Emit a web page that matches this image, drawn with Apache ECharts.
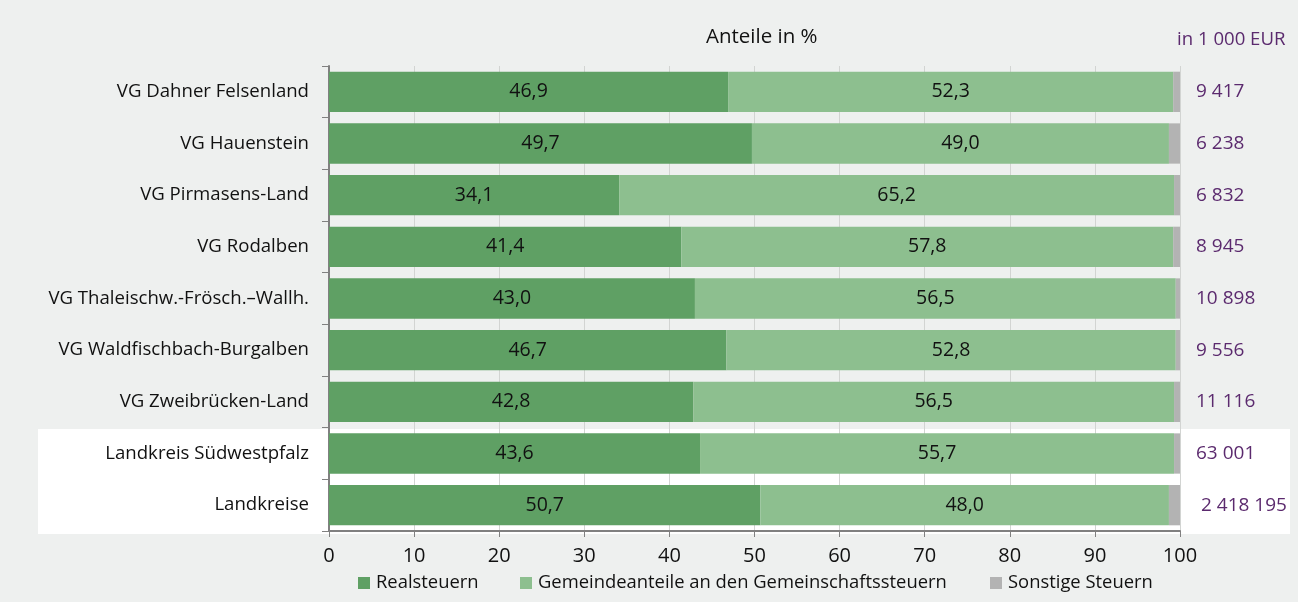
<!DOCTYPE html>
<html>
<head>
<meta charset="utf-8">
<script src="https://cdn.jsdelivr.net/npm/echarts@6/dist/echarts.min.js"></script>
<style>
  html, body { margin: 0; padding: 0; background: #eef0ef; }
  #chart { width: 1298px; height: 602px; }
</style>
</head>
<body>
<div id="chart"></div>
<script>
// Kategorien (von oben nach unten)
var kategorien = [
  'VG Dahner Felsenland',
  'VG Hauenstein',
  'VG Pirmasens-Land',
  'VG Rodalben',
  'VG Thaleischw.-Frösch.–Wallh.',
  'VG Waldfischbach-Burgalben',
  'VG Zweibrücken-Land',
  'Landkreis Südwestpfalz',
  'Landkreise'
];
var realsteuern = [46.9, 49.7, 34.1, 41.4, 43.0, 46.7, 42.8, 43.6, 50.7];
var gemeindeanteile = [52.3, 49.0, 65.2, 57.8, 56.5, 52.8, 56.5, 55.7, 48.0];
var sonstige = [0.8, 1.3, 0.7, 0.8, 0.5, 0.5, 0.7, 0.7, 1.3];
var summen = ['9 417', '6 238', '6 832', '8 945', '10 898', '9 556', '11 116', '63 001', '2 418 195'];

var font = '"Open Sans", "Noto Sans", sans-serif';

// echarts zeichnet Kategorien von unten nach oben -> umdrehen
function rev(a) { return a.slice().reverse(); }

var chart = echarts.init(document.getElementById('chart'));

var labelStyle = {
  show: true,
  position: 'inside',
  color: '#111',
  fontSize: 19.5,
  fontFamily: font,
  formatter: function (p) { return p.value.toFixed(1).replace('.', ','); }
};

// Legende in drei Teilen, damit die Abstaende stimmen
function legende(name, left) {
  return {
    data: [name],
    left: left,
    top: 574,
    itemWidth: 12,
    itemHeight: 12,
    itemGap: 0,
    padding: 0,
    icon: 'rect',
    textStyle: { fontSize: 18.4, fontFamily: font, color: '#111', padding: [0, 0, 0, 1] }
  };
}

chart.setOption({
  backgroundColor: '#eef0ef',
  animation: false,
  graphic: [
    // weisser Hintergrund hinter den Landkreis-Zeilen
    { type: 'rect', z: -10, shape: { x: 38, y: 429, width: 1252, height: 105 }, style: { fill: '#ffffff' } },
    { type: 'text', left: 706, top: 27, style: { text: 'Anteile in %', fontSize: 20.5, fontFamily: font, fill: '#111' } },
    { type: 'text', left: 1177, top: 30, style: { text: 'in 1 000 EUR', fontSize: 18.6, fontFamily: font, fill: '#5b2a6e' } }
  ],
  legend: [
    legende('Realsteuern', 358),
    legende('Gemeindeanteile an den Gemeinschaftssteuern', 520),
    legende('Sonstige Steuern', 990)
  ],
  grid: { left: 329, right: 118, top: 66, bottom: 71 },
  xAxis: {
    type: 'value',
    min: 0,
    max: 100,
    interval: 10,
    axisLine: { show: true, lineStyle: { color: '#808080', width: 2 } },
    axisTick: { show: true, length: 6, lineStyle: { color: '#808080' } },
    axisLabel: { fontSize: 20, fontFamily: font, color: '#111', margin: 15 },
    splitLine: { show: true, lineStyle: { color: '#d2d4d2', width: 1 } }
  },
  yAxis: [
    {
      type: 'category',
      data: rev(kategorien),
      axisLine: { show: true, lineStyle: { color: '#808080', width: 2 } },
      axisTick: { show: true, length: 7, lineStyle: { color: '#808080' } },
      axisLabel: { fontSize: 18.6, fontFamily: font, color: '#111', margin: 20 }
    },
    {
      type: 'category',
      position: 'right',
      data: rev(summen),
      axisLine: { show: false },
      axisTick: { show: false },
      axisLabel: {
        fontSize: 19, fontFamily: font, color: '#5b2a6e', margin: 16, align: 'left',
        formatter: function (v) { return v.length > 8 ? '{w|' + v + '}' : v; },
        rich: { w: { fontSize: 19, fontFamily: font, color: '#5b2a6e', padding: [0, 0, 0, 5] } }
      }
    }
  ],
  series: [
    {
      name: 'Realsteuern',
      type: 'bar',
      stack: 'a',
      barCategoryGap: '22%',
      data: rev(realsteuern),
      itemStyle: { color: '#5fa064' },
      label: labelStyle
    },
    {
      name: 'Gemeindeanteile an den Gemeinschaftssteuern',
      type: 'bar',
      stack: 'a',
      data: rev(gemeindeanteile),
      itemStyle: { color: '#8dbf8f' },
      label: labelStyle
    },
    {
      name: 'Sonstige Steuern',
      type: 'bar',
      stack: 'a',
      data: rev(sonstige),
      itemStyle: { color: '#b3b3b3' }
    }
  ]
});
</script>
</body>
</html>
